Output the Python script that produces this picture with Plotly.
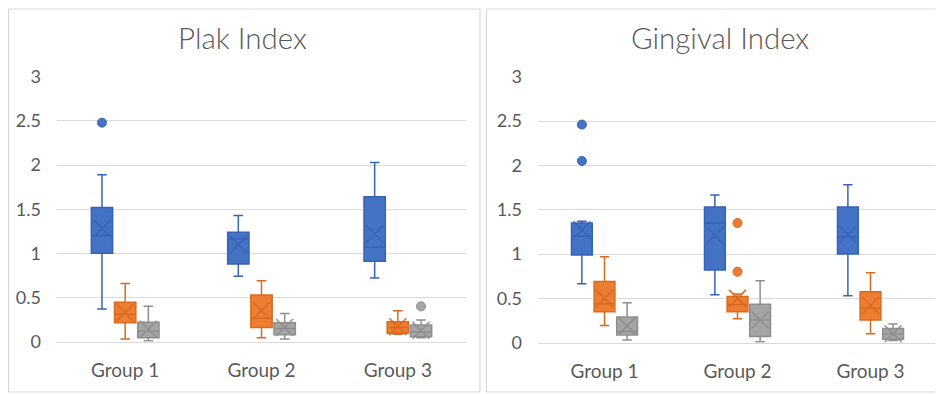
import plotly.graph_objects as go

categories = ["Group 1", "Group 2", "Group 3"]
series_names = ["Series 1", "Series 2", "Series 3"]

# ---- Plak Index (left panel) ----
plak_lower = [[0.37, 0.74, 0.72], [0.03, 0.045, 0.085], [0.01, 0.03, 0.045]]
plak_q1 = [[1.00, 0.88, 0.91], [0.215, 0.16, 0.095], [0.045, 0.08, 0.057]]
plak_median = [[1.20, 1.16, 1.07], [0.31, 0.265, 0.16], [0.12, 0.15, 0.11]]
plak_q3 = [[1.52, 1.24, 1.64], [0.446, 0.53, 0.226], [0.22, 0.215, 0.19]]
plak_upper = [[1.89, 1.43, 2.03], [0.66, 0.69, 0.35], [0.40, 0.32, 0.245]]
plak_mean = [[1.28, 1.10, 1.22], [0.33, 0.35, 0.17], [0.14, 0.16, 0.13]]
plak_outliers = [[("Group 1", 2.48)], [], [("Group 3", 0.40)]]

# ---- Gingival Index (right panel) ----
ging_lower = [[0.665, 0.54, 0.53], [0.195, 0.27, 0.10], [0.03, 0.01, 0.025]]
ging_q1 = [[0.99, 0.82, 1.00], [0.35, 0.35, 0.255], [0.087, 0.07, 0.04]]
ging_median = [[1.20, 1.35, 1.195], [0.44, 0.43, 0.39], [0.125, 0.255, 0.10]]
ging_q3 = [[1.35, 1.53, 1.53], [0.69, 0.52, 0.575], [0.29, 0.435, 0.16]]
ging_upper = [[1.37, 1.665, 1.78], [0.97, 0.55, 0.79], [0.45, 0.70, 0.21]]
ging_mean = [[1.27, 1.21, 1.22], [0.50, 0.50, 0.42], [0.19, 0.255, 0.10]]
ging_outliers = [[("Group 1", 2.46), ("Group 1", 2.05)],
                 [("Group 2", 1.35), ("Group 2", 0.80)], []]

y_ticks = [0, 0.5, 1, 1.5, 2, 2.5, 3]
y_ticktext = ["0", "0.5", "1", "1.5", "2", "2.5", "3"]

fills = ["#4472C4", "#ED7D31", "#A5A5A5"]
lines = ["#3663B5", "#D86A20", "#8E8E8E"]

FONT = "Lato"
W, H = 943, 394
OFF = 8  # page body margin offset

fig = go.Figure()

panels = [
    dict(xa="x", ya="y", lower=plak_lower, q1=plak_q1, med=plak_median, q3=plak_q3,
         upper=plak_upper, mean=plak_mean, out=plak_outliers),
    dict(xa="x2", ya="y2", lower=ging_lower, q1=ging_q1, med=ging_median, q3=ging_q3,
         upper=ging_upper, mean=ging_mean, out=ging_outliers),
]

for p in panels:
    for s in range(3):
        fig.add_trace(go.Box(
            x=categories, q1=p["q1"][s], median=p["med"][s], q3=p["q3"][s],
            lowerfence=p["lower"][s], upperfence=p["upper"][s],
            name=series_names[s], offsetgroup=str(s), xaxis=p["xa"], yaxis=p["ya"],
            fillcolor=fills[s], line=dict(color=lines[s], width=1.5),
            whiskerwidth=0.45, boxpoints=False, showlegend=False, hoverinfo="skip",
        ))
    for s in range(3):
        fig.add_trace(go.Scatter(
            x=categories, y=p["mean"][s], mode="markers", offsetgroup=str(s),
            xaxis=p["xa"], yaxis=p["ya"], showlegend=False, hoverinfo="skip",
            marker=dict(symbol="x-thin-open", size=17,
                        line=dict(color=lines[s], width=1.5), color=lines[s]),
        ))
        pts = p["out"][s]
        fig.add_trace(go.Scatter(
            x=[c for c, v in pts] if pts else [None], y=[v for c, v in pts] if pts else [None],
            mode="markers", offsetgroup=str(s),
            xaxis=p["xa"], yaxis=p["ya"], showlegend=False, hoverinfo="skip",
            marker=dict(symbol="circle", size=9, color=fills[s],
                        line=dict(color=lines[s], width=1)),
        ))

def px_x(v):
    return (v - OFF) / W

def px_y(v):
    return 1 - (v - OFF) / H

xaxis_common = dict(
    type="category", categoryorder="array", categoryarray=categories,
    showgrid=False, showline=True, linecolor="#D9D9D9", linewidth=1.3,
    ticks="", tickfont=dict(family=FONT, size=19, color="#595959"),
    ticklabelstandoff=11, zeroline=False, fixedrange=True, automargin=False,
)
yaxis_common = dict(
    range=[0, 3], tickvals=y_ticks, ticktext=y_ticktext,
    showgrid=True, gridcolor="#D9D9D9", gridwidth=1.3, zeroline=False,
    showline=False, ticks="", tickfont=dict(family=FONT, size=18, color="#595959"),
    ticklabelstandoff=15, fixedrange=True, automargin=False,
)

fig.update_layout(
    width=W, height=H, margin=dict(l=0, r=0, t=0, b=0, autoexpand=False),
    paper_bgcolor="white", plot_bgcolor="white",
    boxmode="group", boxgap=0.49, boxgroupgap=0.08,
    scattermode="group", scattergap=0.49,
    showlegend=False,
    xaxis=dict(domain=[px_x(57), px_x(466)], anchor="y", **xaxis_common),
    yaxis=dict(domain=[px_y(341.7), px_y(76.7)], anchor="x", **yaxis_common),
    xaxis2=dict(domain=[px_x(538), px_x(937)], anchor="y2", **xaxis_common),
    yaxis2=dict(domain=[px_y(342.7), px_y(76.7)], anchor="x2", **yaxis_common),
    shapes=[
        dict(type="rect", xref="paper", yref="paper",
             x0=px_x(8.6), x1=px_x(480), y0=px_y(392), y1=px_y(9),
             line=dict(color="#D9D9D9", width=1.2), fillcolor="rgba(0,0,0,0)", layer="below"),
        dict(type="rect", xref="paper", yref="paper",
             x0=px_x(486.5), x1=px_x(941.5), y0=px_y(392), y1=px_y(9),
             line=dict(color="#D9D9D9", width=1.2), fillcolor="rgba(0,0,0,0)", layer="below"),
    ],
    annotations=[
        dict(text="Plak Index", x=px_x(242), y=px_y(37), xref="paper", yref="paper",
             showarrow=False, xanchor="center", yanchor="middle",
             font=dict(family=FONT, size=29.5, color="#595959", weight=300)),
        dict(text="Gingival Index", x=px_x(720), y=px_y(37), xref="paper", yref="paper",
             showarrow=False, xanchor="center", yanchor="middle",
             font=dict(family=FONT, size=29.5, color="#595959", weight=300)),
    ],
)

fig.write_html("out.html")
